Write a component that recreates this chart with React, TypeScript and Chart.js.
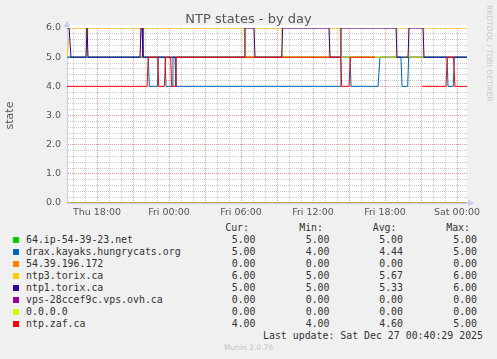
import React, { useEffect, useRef } from "react";
import { Chart, registerables } from "chart.js";

Chart.register(...registerables);

// ---- Data (time in hours since Thu 00:00) ----
const X_MIN = 15.5;
const X_MAX = 48.833;

const seriesNames = [
  "64.ip-54-39-23.net",
  "drax.kayaks.hungrycats.org",
  "54.39.196.172",
  "ntp3.torix.ca",
  "ntp1.torix.ca",
  "vps-28ccef9c.vps.ovh.ca",
  "0.0.0.0",
  "ntp.zaf.ca",
];
const seriesColors = ["#00CC00", "#0066B3", "#FF8000", "#FFCC00", "#330099", "#990099", "#CCFF00", "#FF0000"];

const curValues = ["5.00", "5.00", "0.00", "6.00", "5.00", "0.00", "0.00", "4.00"];
const minValues = ["5.00", "4.00", "0.00", "5.00", "5.00", "0.00", "0.00", "4.00"];
const avgValues = ["5.00", "4.44", "0.00", "5.67", "5.33", "0.00", "0.00", "4.60"];
const maxValues = ["5.00", "5.00", "0.00", "6.00", "6.00", "0.00", "0.00", "5.00"];

const ipTimes = [15.5, 48.833];
const ipValues = [5, 5];

const draxTimes = [15.5, 22.27, 22.36, 23.03, 23.11, 23.67, 23.75, 24.25, 24.33, 24.5, 24.58, 38.25, 38.33, 39.08, 39.17, 41.42, 41.58, 43.33, 43.42, 43.89, 43.97, 47.17, 47.25, 47.69, 47.78, 48.833];
const draxValues = [5, 5, 4, 4, 5, 5, 4, 4, 5, 5, 4, 4, 5, 5, 4, 4, 5, 5, 4, 4, 5, 5, 4, 4, 5, 5];

const ip54Times = [15.5, 48.833];
const ip54Values = [0, 0];

const ntp3Times = [15.5, 15.58, 15.75, 17.08, 17.17, 17.25, 21.58, 21.67, 21.75, 21.83, 30.25, 30.33, 31.08, 31.17, 33.39, 33.47, 37.33, 37.42, 38.25, 38.33, 42.92, 43.0, 43.92, 44.0, 45.17, 45.25, 48.833];
const ntp3Values = [5, 5, 6, 6, 5, 6, 6, 5, 5, 6, 6, 5, 5, 6, 6, 5, 5, 6, 6, 5, 5, 6, 6, 5, 5, 6, 6];

const ntp1Times = [15.5, 15.67, 15.83, 17.08, 17.17, 17.25, 21.58, 21.67, 21.75, 21.83, 30.25, 30.33, 31.08, 31.17, 33.39, 33.47, 37.33, 37.42, 38.25, 38.33, 42.92, 43.0, 43.92, 44.0, 45.17, 45.25, 48.833];
const ntp1Values = [6, 6, 5, 5, 6, 5, 5, 6, 6, 5, 5, 6, 6, 5, 5, 6, 6, 5, 5, 6, 6, 5, 5, 6, 6, 5, 5];

const vpsTimes = [15.5, 48.833];
const vpsValues = [0, 0];

const zeroTimes = [15.5, 48.833];
const zeroValues = [0, 0];

const zafTimes = [15.5, 22.17, 22.27, 23.06, 23.14, 23.61, 23.72, 24.14, 24.22, 24.5, 24.58, 38.31, 38.39, 39.0, 39.12, 41.17, 41.25, 45.08, 47.08, 47.19, 47.71, 47.83, 48.833];
const zafValues: (number | null)[] = [4, 4, 5, 5, 4, 4, 5, 5, 4, 4, 5, 5, 4, 4, 5, 5, null, 4, 4, 5, 5, 4, 4];

const seriesTimes = [ipTimes, draxTimes, ip54Times, ntp3Times, ntp1Times, vpsTimes, zeroTimes, zafTimes];
const seriesValues: (number | null)[][] = [ipValues, draxValues, ip54Values, ntp3Values, ntp1Values, vpsValues, zeroValues, zafValues];

const xTickHours = [18, 24, 30, 36, 42, 48];
const xTickLabels = ["Thu 18:00", "Fri 00:00", "Fri 06:00", "Fri 12:00", "Fri 18:00", "Sat 00:00"];
const yTickValues = [0, 1, 2, 3, 4, 5, 6];
const yTickLabels = ["0.0", "1.0", "2.0", "3.0", "4.0", "5.0", "6.0"];

const MAJOR = "rgba(222,120,120,0.75)";
const MINOR = "rgba(150,150,150,0.5)";
const AXIS = "#c6ccf2";

const W = 497;
const H = 359;

export default function App() {
  const ref = useRef<HTMLCanvasElement | null>(null);

  useEffect(() => {
    document.body.style.margin = "0";
    const canvas = ref.current;
    if (!canvas) return;

    const datasets = seriesNames.map((name, i) => ({
      label: name,
      data: seriesTimes[i].map((t, j) => ({ x: t, y: seriesValues[i][j] })),
      borderColor: seriesColors[i],
      backgroundColor: seriesColors[i],
      borderWidth: 1,
      pointRadius: 0,
      tension: 0,
      spanGaps: false,
      order: seriesNames.length - 1 - i,
    }));

    const decor = {
      id: "decor",
      beforeDraw(chart: any) {
        const { ctx, chartArea: a } = chart;
        ctx.save();
        ctx.fillStyle = "#ffffff";
        ctx.fillRect(a.left, a.top - 3, a.right - a.left, a.bottom - a.top + 3);
        ctx.restore();
      },
      afterDraw(chart: any) {
        const { ctx, chartArea: a } = chart;
        ctx.save();
        ctx.fillStyle = AXIS;
        ctx.beginPath();
        ctx.moveTo(a.left - 3.5, a.top - 1);
        ctx.lineTo(a.left + 3.5, a.top - 1);
        ctx.lineTo(a.left, a.top - 7);
        ctx.closePath();
        ctx.fill();
        ctx.beginPath();
        ctx.moveTo(a.right + 1, a.bottom - 3.5);
        ctx.lineTo(a.right + 1, a.bottom + 3.5);
        ctx.lineTo(a.right + 7, a.bottom);
        ctx.closePath();
        ctx.fill();
        ctx.restore();
      },
    };

    const yTicks: number[] = [];
    for (let i = 0; i <= 30; i++) yTicks.push(Number((i * 0.2).toFixed(1)));
    const xTicks: number[] = [];
    for (let h = 16; h <= 48; h++) xTicks.push(h);

    const chart = new Chart(canvas, {
      type: "line",
      data: { datasets },
      plugins: [decor],
      options: {
        responsive: false,
        animation: false,
        devicePixelRatio: 1,
        layout: { padding: { top: 28, right: 30, left: 0, bottom: 0 } },
        plugins: {
          legend: { display: false },
          tooltip: { enabled: false },
          title: { display: false },
        },
        scales: {
          x: {
            type: "linear",
            min: X_MIN,
            max: X_MAX,
            afterBuildTicks: (s: any) => {
              s.ticks = xTicks.map((v) => ({ value: v }));
            },
            afterFit: (s: any) => {
              s.height = 19;
            },
            ticks: {
              autoSkip: false,
              maxRotation: 0,
              padding: 4,
              color: "#555",
              font: { family: "DejaVu Sans", size: 9.5 },
              callback: (v: any) => {
                const i = xTickHours.indexOf(Number(v));
                return i >= 0 ? xTickLabels[i] : "";
              },
            },
            grid: {
              drawTicks: false,
              lineWidth: 1,
              color: (c: any) => (c.tick && c.tick.value % 3 === 0 ? MAJOR : MINOR),
            },
            border: { display: true, color: AXIS, width: 1, dash: [1, 1] },
          },
          y: {
            type: "linear",
            min: 0,
            max: 6,
            afterBuildTicks: (s: any) => {
              s.ticks = yTicks.map((v) => ({ value: v }));
            },
            afterFit: (s: any) => {
              s.width = 67;
            },
            ticks: {
              autoSkip: false,
              padding: 6,
              color: "#555",
              font: { family: "DejaVu Sans", size: 9.5 },
              callback: (v: any) => {
                const n = Number(v);
                const i = yTickValues.findIndex((t) => Math.abs(t - n) < 1e-6);
                return i >= 0 ? yTickLabels[i] : "";
              },
            },
            grid: {
              drawTicks: false,
              lineWidth: 1,
              color: (c: any) =>
                c.tick && Math.abs(c.tick.value - Math.round(c.tick.value)) < 1e-6 ? MAJOR : MINOR,
            },
            border: { display: true, color: AXIS, width: 1, dash: [1, 1] },
            title: {
              display: true,
              text: "state",
              color: "#555",
              font: { family: "DejaVu Sans", size: 11, lineHeight: 1.2 },
              padding: { top: 3.5, bottom: 0 },
            },
          },
        },
      } as any,
    });

    return () => chart.destroy();
  }, []);

  const mono = "'DejaVu Sans Mono', monospace";
  const rowY = (i: number) => 239.5 + 12 * i;
  const colRightHeader = [249, 323, 396.5, 470];
  const colRightValue = [255.5, 329.5, 403, 477];
  const headers = ["Cur:", "Min:", "Avg:", "Max:"];
  const cols = [curValues, minValues, avgValues, maxValues];

  const textAt = (key: string, text: string, cy: number, opts: any) => (
    <div
      key={key}
      style={{
        position: "absolute",
        top: cy - 6,
        height: 12,
        lineHeight: "12px",
        whiteSpace: "pre",
        fontFamily: mono,
        fontSize: 9.9,
        color: "#333",
        ...opts,
      }}
    >
      {text}
    </div>
  );

  return (
    <div
      style={{
        position: "relative",
        width: W,
        height: H,
        background: "#F0F0F0",
        overflow: "hidden",
      }}
    >
      <canvas
        ref={ref}
        width={W}
        height={222}
        style={{ position: "absolute", left: 0, top: 0, width: W, height: 222 }}
      />
      <div
        style={{
          position: "absolute",
          left: 0,
          width: W,
          top: 10,
          textAlign: "center",
          fontFamily: "'DejaVu Sans'",
          fontSize: 13,
          lineHeight: "18px",
          color: "#555",
        }}
      >
        NTP states - by day
      </div>
      <div
        style={{
          position: "absolute",
          left: 483,
          top: 5,
          width: 12,
          writingMode: "vertical-rl",
          fontFamily: "'DejaVu Sans'",
          fontSize: 7.5,
          lineHeight: "12px",
          color: "#c8c8c8",
          whiteSpace: "pre",
        }}
      >
        RRDTOOL / TOBI OETIKER
      </div>
      {headers.map((h, k) =>
        textAt("h" + k, h, 228, { right: W - colRightHeader[k], textAlign: "right" })
      )}
      {seriesNames.map((name, i) => (
        <React.Fragment key={name}>
          <div
            style={{
              position: "absolute",
              left: 13,
              top: rowY(i) - 3,
              width: 6,
              height: 6,
              background: seriesColors[i],
            }}
          />
          {textAt("n" + i, name, rowY(i), { left: 26 })}
          {cols.map((c, k) =>
            textAt("v" + i + "_" + k, c[i], rowY(i), {
              right: W - colRightValue[k],
              textAlign: "right",
            })
          )}
        </React.Fragment>
      ))}
      {textAt("lu", "Last update: Sat Dec 27 00:40:29 2025", 335.7, { right: W - 483, textAlign: "right" })}
      <div
        style={{
          position: "absolute",
          left: 0,
          width: W,
          top: 343,
          textAlign: "center",
          fontFamily: "'DejaVu Sans'",
          fontSize: 7.5,
          lineHeight: "10px",
          color: "#c4c4c4",
        }}
      >
        Munin 2.0.76
      </div>
    </div>
  );
}
